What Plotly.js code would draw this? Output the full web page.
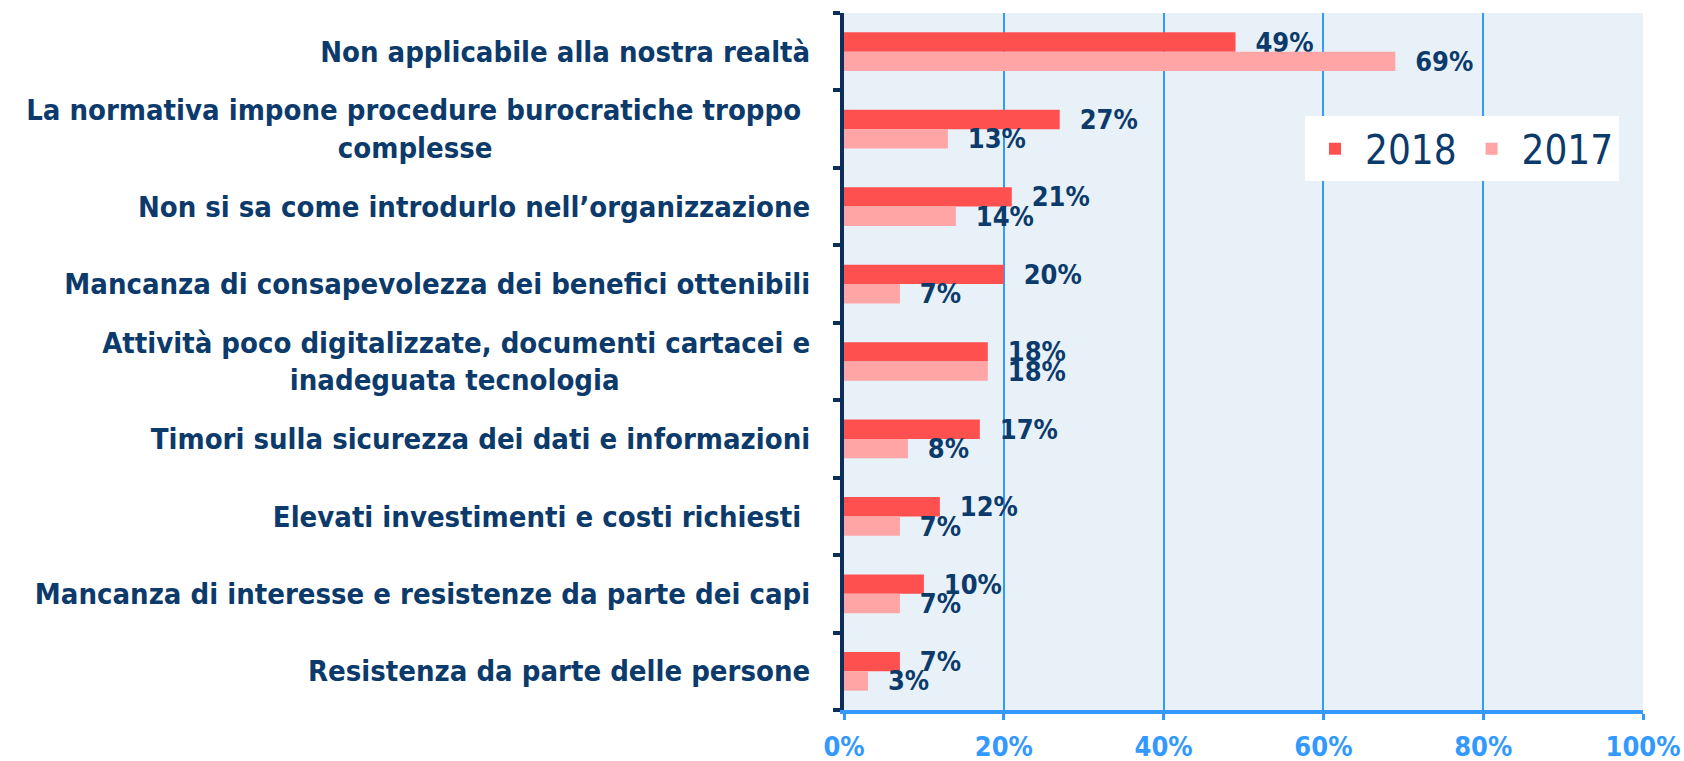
<!DOCTYPE html>
<html>
<head>
<meta charset="utf-8">
<script src="https://cdn.plot.ly/plotly-3.0.1.min.js"></script>
<style>html,body{margin:0;padding:0;background:#fff;}#chart{width:1684px;height:761px;}</style>
</head>
<body>
<div id="chart"></div>
<script>
const categories = [
  "Non applicabile alla nostra realtà",
  "La normativa impone procedure burocratiche troppo <br>complesse",
  "Non si sa come introdurlo nell’organizzazione",
  "Mancanza di consapevolezza dei benefici ottenibili",
  "Attività poco digitalizzate, documenti cartacei e<br>inadeguata tecnologia",
  "Timori sulla sicurezza dei dati e informazioni",
  "Elevati investimenti e costi richiesti ",
  "Mancanza di interesse e resistenze da parte dei capi",
  "Resistenza da parte delle persone"
];
const values2018 = [49, 27, 21, 20, 18, 17, 12, 10, 7];
const values2017 = [69, 13, 14, 7, 18, 8, 7, 7, 3];
const xTickVals = [0, 20, 40, 60, 80, 100];
const xTickLabels = ["0%", "20%", "40%", "60%", "80%", "100%"];

const FONT = "'DejaVu Sans Condensed', 'DejaVu Sans', sans-serif";
const NAVY = "#0B3A6B";
const BLUE = "#3399FF";
const LABEL_SIZE = 29;

// center multi-line tick labels by padding shorter lines with trailing nbsp
const cv = document.createElement('canvas').getContext('2d');
cv.font = "bold " + LABEL_SIZE + "px 'DejaVu Sans Condensed'";
const nb = cv.measureText('\u00a0').width || 8;
function centerLabel(s) {
  const lines = s.split('<br>');
  if (lines.length < 2) return s;
  const w = lines.map(l => cv.measureText(l).width);
  const mx = Math.max(...w);
  return lines.map((l, i) => l + '\u00a0'.repeat(Math.round((mx - w[i]) / 2 / nb))).join('<br>');
}
const tickText = categories.map(centerLabel);
const pct = v => v + '%';

const common = {
  type: 'bar', orientation: 'h', y: categories,
  textposition: 'outside', constraintext: 'none', cliponaxis: false,
  texttemplate: '\u00a0\u00a0%{text}',
  textfont: {family: FONT, size: 27, color: NAVY, weight: 'bold'},
  hoverinfo: 'skip'
};
const data = [
  Object.assign({}, common, {name: '2018', x: values2018, text: values2018.map(pct), marker: {color: '#FF5050'}}),
  Object.assign({}, common, {name: '2017', x: values2017, text: values2017.map(pct), marker: {color: '#FFA5A5'}})
];

const layout = {
  width: 1684, height: 761,
  margin: {l: 844, r: 41, t: 13, b: 51, pad: 0, autoexpand: false},
  paper_bgcolor: '#ffffff', plot_bgcolor: '#E8F1F8',
  barmode: 'group', bargap: 0.5, bargroupgap: 0,
  font: {family: FONT, color: NAVY},
  showlegend: true,
  legend: {
    orientation: 'h', x: 0.577, y: 0.852, xanchor: 'left', yanchor: 'top',
    bgcolor: '#ffffff', font: {family: FONT, size: 40, color: NAVY},
    traceorder: 'normal', borderwidth: 0, itemwidth: 50
  },
  xaxis: {
    range: [0, 100], tickmode: 'array', tickvals: xTickVals, ticktext: xTickLabels,
    showgrid: true, gridcolor: BLUE, gridwidth: 2,
    showline: true, linecolor: BLUE, linewidth: 4,
    ticks: 'outside', ticklen: 6, tickwidth: 3, tickcolor: BLUE,
    tickfont: {family: FONT, size: 27, color: BLUE, weight: 'bold'},
    ticklabelstandoff: 4, zeroline: false, fixedrange: true
  },
  yaxis: {
    autorange: 'reversed', type: 'category',
    tickvals: categories, ticktext: tickText,
    showline: true, linecolor: '#0B2E5A', linewidth: 4,
    ticks: 'outside', tickson: 'boundaries', ticklen: 7, tickwidth: 4, tickcolor: '#0B2E5A',
    tickfont: {family: FONT, size: LABEL_SIZE, color: NAVY, weight: 'bold'},
    ticklabelstandoff: 24, showgrid: false, zeroline: false, fixedrange: true
  }
};

Plotly.newPlot('chart', data, layout, {displayModeBar: false, staticPlot: true});
</script>
</body>
</html>
